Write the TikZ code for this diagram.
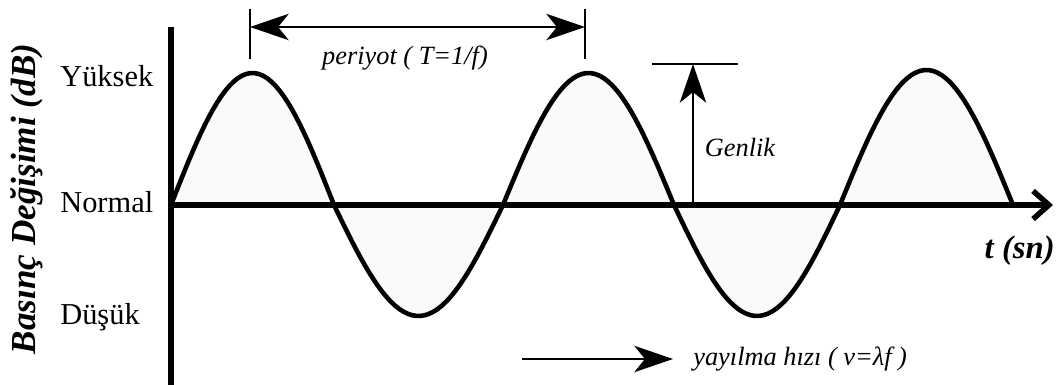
\documentclass[tikz,border=0pt]{standalone}
\usepackage{fontspec}
\setmainfont{Liberation Serif}
\usetikzlibrary{arrows.meta}

\tikzset{
  axisline/.style={line width=3.1pt},
  waveline/.style={line width=2.6pt, line cap=round, line join=round},
  thinline/.style={line width=1.1pt},
  dimarrow/.style={thinline, -{Stealth[length=22pt, width=15pt, inset=6pt]}},
  dimboth/.style={thinline, {Stealth[length=22pt, width=15pt, inset=6pt]}-{Stealth[length=22pt, width=15pt, inset=6pt]}},
  levellabel/.style={anchor=base west, inner sep=0pt, font=\fontsize{17.3}{20}\selectfont},
  notelabel/.style={inner sep=0pt, font=\fontsize{15}{18}\selectfont\itshape},
}

\begin{document}
\begin{tikzpicture}[x=0.02cm, y=0.02cm]
  \useasboundingbox (-171,-180) rectangle (885,205);

  % Coordinates
  \coordinate (O) at (0,0);
  \coordinate (Ytop) at (0,178);
  \coordinate (Ybot) at (0,-190);
  \coordinate (Xend) at (882,0);
  \coordinate (P1a) at (79,196);
  \coordinate (P1b) at (79,146);
  \coordinate (P2a) at (414,196);
  \coordinate (P2b) at (414,146);
  \coordinate (P1) at (79,178);
  \coordinate (P2) at (414,178);
  \coordinate (G0) at (522,0);
  \coordinate (G1) at (522,141);
  \coordinate (Ga) at (481,141);
  \coordinate (Gb) at (567,141);
  \coordinate (V0) at (351,-154);
  \coordinate (V1) at (502,-154);

  % Filling
  \foreach \xa/\xb/\amp in {0/163/132, 163/332/-111, 332/503/132, 503/669/-111, 669/842/135}
    \fill[black!2] plot[domain=0:180, samples=40] ({\xa+\x/180*(\xb-\xa)}, {\amp*sin(\x)}) -- cycle;

  % Drawing
  \foreach \xa/\xb/\amp in {0/163/132, 163/332/-111, 332/503/132, 503/669/-111, 669/842/135}
    \draw[waveline] plot[domain=0:180, samples=40] ({\xa+\x/180*(\xb-\xa)}, {\amp*sin(\x)});
  \draw[axisline] (Ytop) -- (Ybot);
  \draw[axisline, -{Straight Barb[length=9pt, width=16pt]}] (O) -- (Xend);
  \draw[thinline] (P1a) -- (P1b);
  \draw[thinline] (P2a) -- (P2b);
  \draw[dimboth] (P1) -- (P2);
  \draw[dimarrow] (G0) -- (G1);
  \draw[thinline] (Ga) -- (Gb);
  \draw[dimarrow] (V0) -- (V1);

  % Labels
  \node[notelabel] (periyot) at (234,147) {periyot ( T=1/f)};
  \node[notelabel] (genlik) at (569,58) {Genlik};
  \node[notelabel, anchor=west] (yayilma) at (522,-154) {yayılma hızı ( v=λf )};
  \node[anchor=east, inner sep=0pt, font=\fontsize{18.6}{22}\selectfont\bfseries\itshape] (tsn) at (884,-46) {t (sn)};
  \node[levellabel] (yuksek) at (-111,118) {Yüksek};
  \node[levellabel] (normal) at (-111,-8) {Normal};
  \node[levellabel] (dusuk) at (-111,-120) {Düşük};
  \node[rotate=90, inner sep=0pt, font=\fontsize{20}{24}\selectfont\bfseries\itshape] (basinc) at (-144,6) {Basınç Değişimi (dB)};
\end{tikzpicture}
\end{document}
